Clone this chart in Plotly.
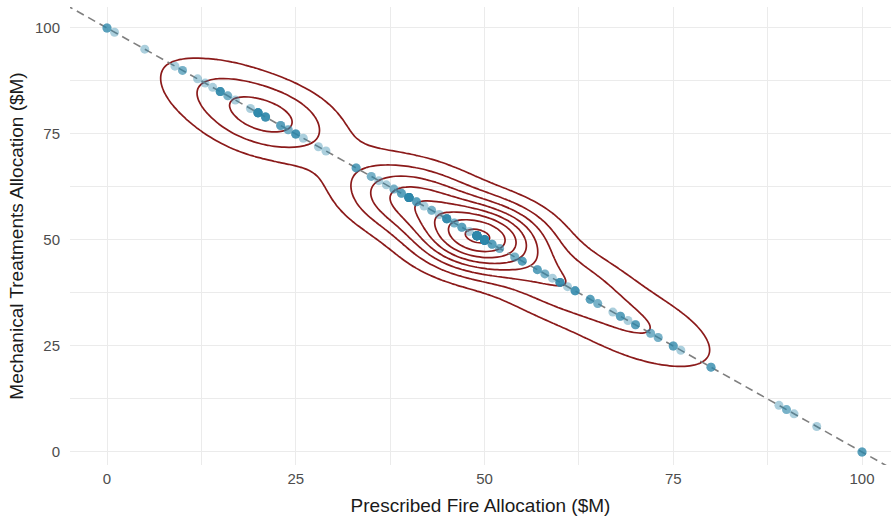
import numpy as np
import plotly.graph_objects as go

# Allocation outcomes: prescribed-fire share of a $100M budget and how many runs landed there
total_budget = 100
prescribed_fire = [0, 1, 5, 9, 10, 12, 13, 14, 15, 16, 17, 19, 20, 21, 23, 24, 25, 26, 28, 29,
                   33, 35, 36, 37, 38, 39, 40, 41, 42, 43, 44, 45, 46, 47, 48, 49, 50, 51, 52,
                   54, 55, 57, 58, 59, 60, 61, 62, 64, 65, 67, 68, 69, 70, 72, 73, 75, 76, 80,
                   89, 90, 91, 94, 100]
runs = [3, 1, 1, 1, 2, 1, 1, 1, 5, 2, 1, 1, 8, 5, 3, 2, 4, 1, 1, 1,
        3, 2, 1, 1, 2, 3, 13, 3, 1, 2, 1, 6, 2, 3, 1, 18, 22, 3, 2,
        2, 3, 3, 2, 1, 5, 1, 4, 3, 2, 1, 3, 1, 3, 2, 2, 3, 1, 3,
        1, 2, 1, 1, 3]
x_ticks = [0, 25, 50, 75, 100]
y_ticks = [0, 25, 50, 75, 100]

# one row per run
obs_x = np.repeat(np.array(prescribed_fire, dtype=float), runs)
obs_y = total_budget - obs_x


def kde2d(x, y, bw, n=100, lims=(0, 100, 0, 100)):
    """Bivariate normal kernel density on a regular grid (MASS::kde2d style)."""
    gx = np.linspace(lims[0], lims[1], n)
    gy = np.linspace(lims[2], lims[3], n)
    hx, hy = bw[0] / 4.0, bw[1] / 4.0
    ax = (gx[:, None] - x[None, :]) / hx
    ay = (gy[:, None] - y[None, :]) / hy
    phi_x = np.exp(-0.5 * ax ** 2) / np.sqrt(2 * np.pi)
    phi_y = np.exp(-0.5 * ay ** 2) / np.sqrt(2 * np.pi)
    z = phi_x @ phi_y.T / (len(x) * hx * hy)
    return gx, gy, z


def r_pretty(lo, hi, n=10):
    """Break points following R's pretty()."""
    h, h5 = 1.5, 0.5 + 1.5 * 1.5
    cell = (hi - lo) / n
    base = 10 ** np.floor(np.log10(cell))
    unit = base
    if 2 * base - cell < h * (cell - unit):
        unit = 2 * base
        if 5 * base - cell < h5 * (cell - unit):
            unit = 5 * base
            if 10 * base - cell < h * (cell - unit):
                unit = 10 * base
    ns = np.floor(lo / unit + 1e-10)
    nu = np.ceil(hi / unit - 1e-10)
    return np.arange(ns, nu + 1) * unit, unit


bandwidth = (21.6, 21.6)
gx, gy, dens = kde2d(obs_x, obs_y, bandwidth, n=150)
breaks, step = r_pretty(dens.min(), dens.max(), 10)
inner = breaks[(breaks > dens.min()) & (breaks < dens.max())]

fig = go.Figure()

# budget constraint line: mechanical = total - prescribed
line_x = np.array([-10, 110], dtype=float)
fig.add_trace(go.Scatter(
    x=line_x, y=total_budget - line_x, mode="lines",
    line=dict(color="#7f7f7f", width=1.6, dash="8px,5px"),
    hoverinfo="skip", showlegend=False,
))

fig.add_trace(go.Scatter(
    x=obs_x, y=obs_y, mode="markers",
    marker=dict(color="#2E86AB", size=9, opacity=0.4, line=dict(width=0)),
    showlegend=False,
))

fig.add_trace(go.Contour(
    x=gx, y=gy, z=dens.T,
    autocontour=False,
    contours=dict(start=inner.min(), end=inner.max(), size=step, coloring="lines"),
    colorscale=[[0, "#8B1A1A"], [1, "#8B1A1A"]],
    line=dict(width=1.7, smoothing=1),
    showscale=False, hoverinfo="skip",
))

grid_major = "#EBEBEB"
font_family = "Liberation Sans, Arial, sans-serif"
axis_common = dict(
    showline=False, zeroline=False, ticks="",
    gridcolor=grid_major, gridwidth=1.3,
    tickfont=dict(family=font_family, size=15, color="#4D4D4D"),
    title_font=dict(family=font_family, size=19, color="#1a1a1a"),
)

fig.update_layout(
    width=891, height=523,
    margin=dict(l=70, r=0, t=7, b=58),
    paper_bgcolor="white", plot_bgcolor="white",
    xaxis=dict(
        range=[-4.9, 103.84], tickvals=x_ticks, ticktext=[str(v) for v in x_ticks],
        minor=dict(tickvals=[12.5, 37.5, 62.5, 87.5], showgrid=True, gridcolor=grid_major, gridwidth=0.7),
        title=dict(text="Prescribed Fire Allocation ($M)", standoff=12),
        ticklabelstandoff=3,
        **axis_common,
    ),
    yaxis=dict(
        range=[-3.07, 104.95], tickvals=y_ticks, ticktext=[str(v) for v in y_ticks],
        minor=dict(tickvals=[12.5, 37.5, 62.5, 87.5], showgrid=True, gridcolor=grid_major, gridwidth=0.7),
        title=dict(text="Mechanical Treatments Allocation ($M)", standoff=6),
        ticklabelstandoff=9,
        **axis_common,
    ),
)

fig.write_html("out.html")
